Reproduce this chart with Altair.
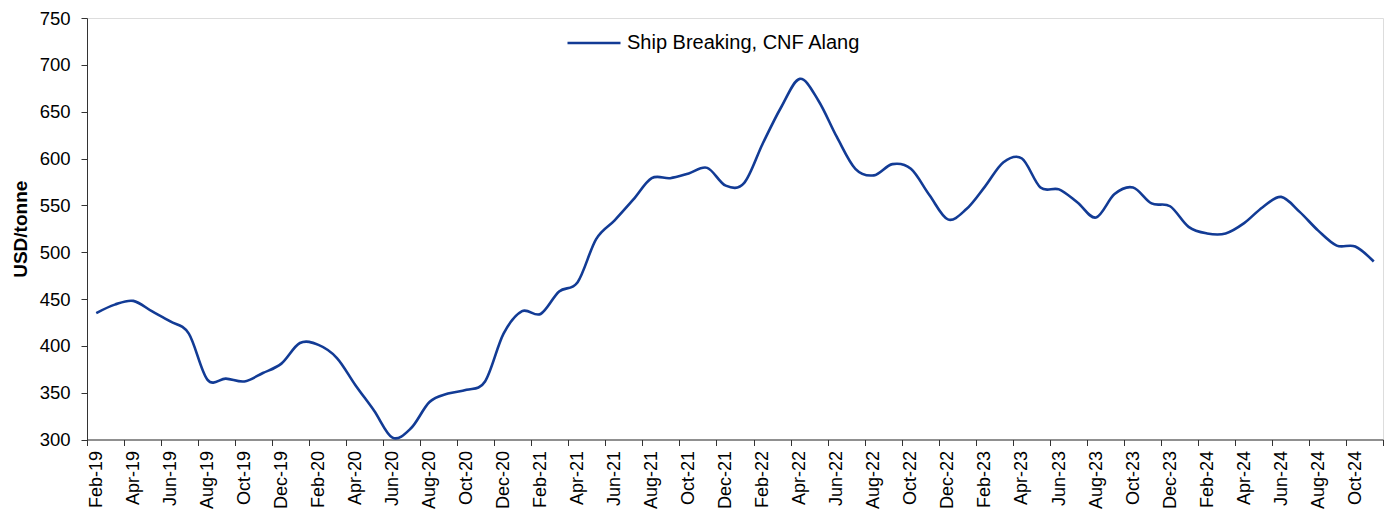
import json
import altair as alt
import pandas as pd

months = [
    "Feb-19", "Mar-19", "Apr-19", "May-19", "Jun-19", "Jul-19", "Aug-19", "Sep-19", "Oct-19", "Nov-19", "Dec-19",
    "Jan-20", "Feb-20", "Mar-20", "Apr-20", "May-20", "Jun-20", "Jul-20", "Aug-20", "Sep-20", "Oct-20", "Nov-20", "Dec-20",
    "Jan-21", "Feb-21", "Mar-21", "Apr-21", "May-21", "Jun-21", "Jul-21", "Aug-21", "Sep-21", "Oct-21", "Nov-21", "Dec-21",
    "Jan-22", "Feb-22", "Mar-22", "Apr-22", "May-22", "Jun-22", "Jul-22", "Aug-22", "Sep-22", "Oct-22", "Nov-22", "Dec-22",
    "Jan-23", "Feb-23", "Mar-23", "Apr-23", "May-23", "Jun-23", "Jul-23", "Aug-23", "Sep-23", "Oct-23", "Nov-23", "Dec-23",
    "Jan-24", "Feb-24", "Mar-24", "Apr-24", "May-24", "Jun-24", "Jul-24", "Aug-24", "Sep-24", "Oct-24", "Nov-24",
]

ship_breaking = [
    435, 444, 448, 437, 426, 413, 364, 365, 362, 371, 381,
    403, 401, 387, 358, 331, 302, 312, 340, 349, 353, 362, 413,
    437, 434, 458, 468, 514, 534, 556, 579, 579, 584, 590, 571,
    574, 616, 655, 685, 662, 623, 589, 582, 594, 589, 561, 535,
    546, 570, 596, 600, 569, 567, 553, 537, 562, 569, 552, 549,
    527, 520, 520, 531, 548, 559, 543, 523, 507, 506, 490,
]

series_name = "Ship Breaking, CNF Alang"
tick_labels = months[::2]
y_ticks = list(range(300, 751, 50))

df = pd.DataFrame({
    "idx": list(range(len(months))),
    "month": months,
    "value": ship_breaking,
    "series": [series_name] * len(months),
})

n = len(months)
x_tick_values = [i - 0.5 for i in range(0, n + 1, 2)]
label_array = json.dumps(tick_labels + [""]).replace('"', "'")
label_expr = f"{label_array}[round((datum.value + 0.5) / 2)]"

W = 1296
H = 421.5
band = W / n

FONT = "Liberation Sans"
LINE_COLOR = "#123B95"

chart = alt.Chart(df).mark_line(
    interpolate="cardinal", tension=0, strokeWidth=2.6
).encode(
    x=alt.X(
        "idx:Q",
        scale=alt.Scale(domain=[-0.5, n - 0.5], nice=False, zero=False),
        axis=alt.Axis(
            values=x_tick_values,
            labelExpr=label_expr,
            labelOffset=band / 2,
            labelAngle=-90,
            labelFontSize=18,
            labelFont=FONT,
            labelColor="#000000",
            labelPadding=5,
            tickSize=6,
            tickColor="#333333",
            domainColor="#333333",
            grid=False,
            title=None,
            labelOverlap=False,
            labelFlush=False,
        ),
    ),
    y=alt.Y(
        "value:Q",
        scale=alt.Scale(domain=[300, 750], nice=False, zero=False),
        axis=alt.Axis(
            values=y_ticks,
            labelFontSize=18.5,
            labelFont=FONT,
            labelColor="#000000",
            labelPadding=11,
            tickSize=6,
            tickColor="#333333",
            domainColor="#333333",
            grid=False,
            title="USD/tonne",
            titleFont=FONT,
            titleFontSize=19,
            titleFontWeight="bold",
            titleColor="#000000",
            titlePadding=9,
        ),
    ),
    color=alt.Color(
        "series:N",
        scale=alt.Scale(range=[LINE_COLOR]),
        legend=alt.Legend(
            orient="none",
            legendX=479,
            legendY=-3,
            title=None,
            symbolType="stroke",
            symbolSize=2809,
            symbolStrokeWidth=2.6,
            labelFont=FONT,
            labelFontSize=20,
            labelColor="#000000",
            labelOffset=5,
            labelLimit=500,
        ),
    ),
).properties(
    width=W,
    height=H,
    autosize=alt.AutoSizeParams(type="none"),
    padding={"left": 79, "top": 10, "right": 3, "bottom": 70.5},
).configure_view(stroke=None).configure(background="#ffffff")

chart.save("out.html", embed_options={"renderer": "svg", "actions": False})
